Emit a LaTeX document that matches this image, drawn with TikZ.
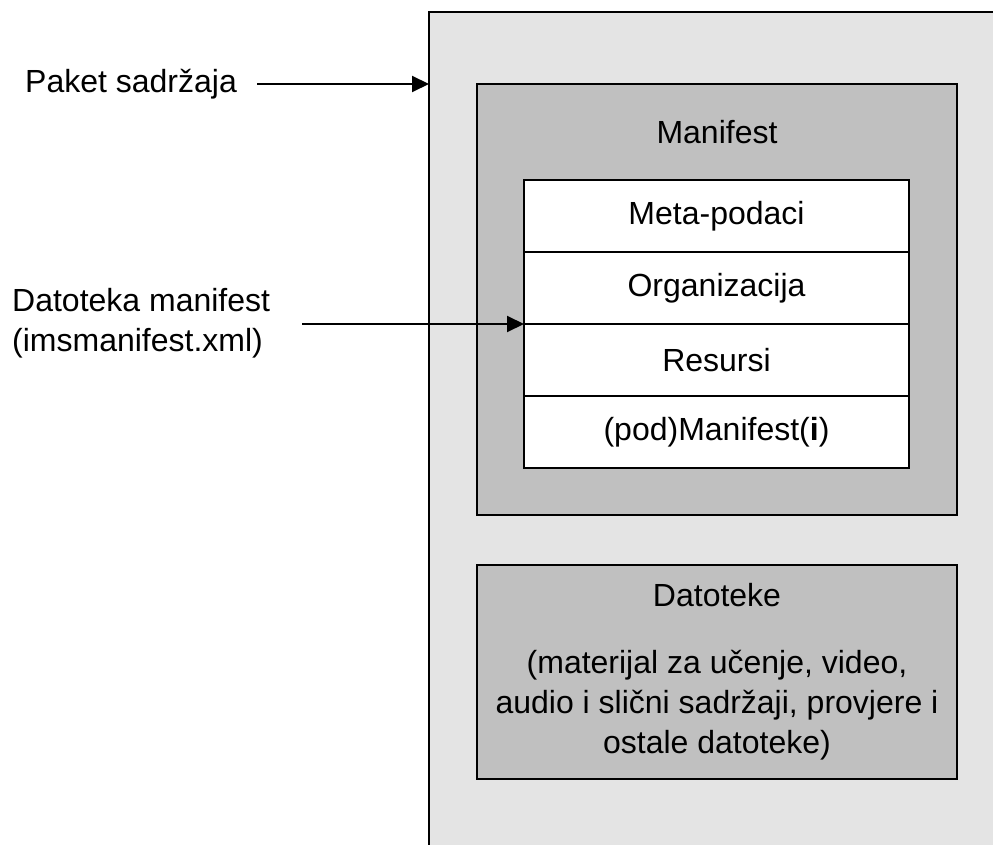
\documentclass[tikz,border=0pt]{standalone}
\usepackage{fontspec}
\setmainfont{Liberation Sans}
\usetikzlibrary{positioning,arrows.meta}

\definecolor{pkggray}{HTML}{E4E4E4}
\definecolor{mangray}{HTML}{C0C0C0}

\tikzset{
  box/.style={draw=black, line width=2pt, inner sep=0pt, outer sep=0pt, align=center},
  row/.style={box, fill=white, minimum width=385pt, minimum height=72pt},
  lbl/.style={inner sep=0pt, align=left},
  pointer/.style={line width=2pt, -{Triangle[length=17pt,width=16pt]}}
}

\begin{document}
\begin{tikzpicture}[x=1pt, y=-1pt, font=\fontsize{32}{40}\selectfont]
    \clip (0,0) rectangle (993,845);

    \node[box, fill=pkggray, minimum width=600pt, minimum height=870pt, anchor=north west] (pkg) at (429,12) {}; % whole package
    \node[box, fill=mangray, minimum width=480pt, minimum height=431pt, anchor=north west] (man) at (477,84) {};
    \node (mantitle) at (717,132) {Manifest};

    \node[row, anchor=north west] (meta) at (524,180) {Meta-podaci};
    \node[row, below=0pt of meta] (org) {Organizacija};
    \node[row, below=0pt of org] (res) {Resursi};
    \node[row, below=0pt of res] (sub) {(pod)Manifest(\textbf{i})};

    \node[box, fill=mangray, minimum width=480pt, minimum height=214pt, anchor=north west] (files) at (477,565)
        {Datoteke\\[27pt](materijal za učenje, video,\\audio i slični sadržaji, provjere i\\ostale datoteke)};

    \node[lbl, anchor=west] (paket) at (25,84) {Paket sadržaja};
    \node[lbl, anchor=west] (datman) at (12,323) {Datoteka manifest\\(imsmanifest.xml)};

    \draw[pointer, shorten <=20pt] (paket.east) -- (pkg.west |- paket.east);
    \draw[pointer] ([xshift=32pt]datman.east |- org.south west) -- (org.south west);
\end{tikzpicture}
\end{document}
